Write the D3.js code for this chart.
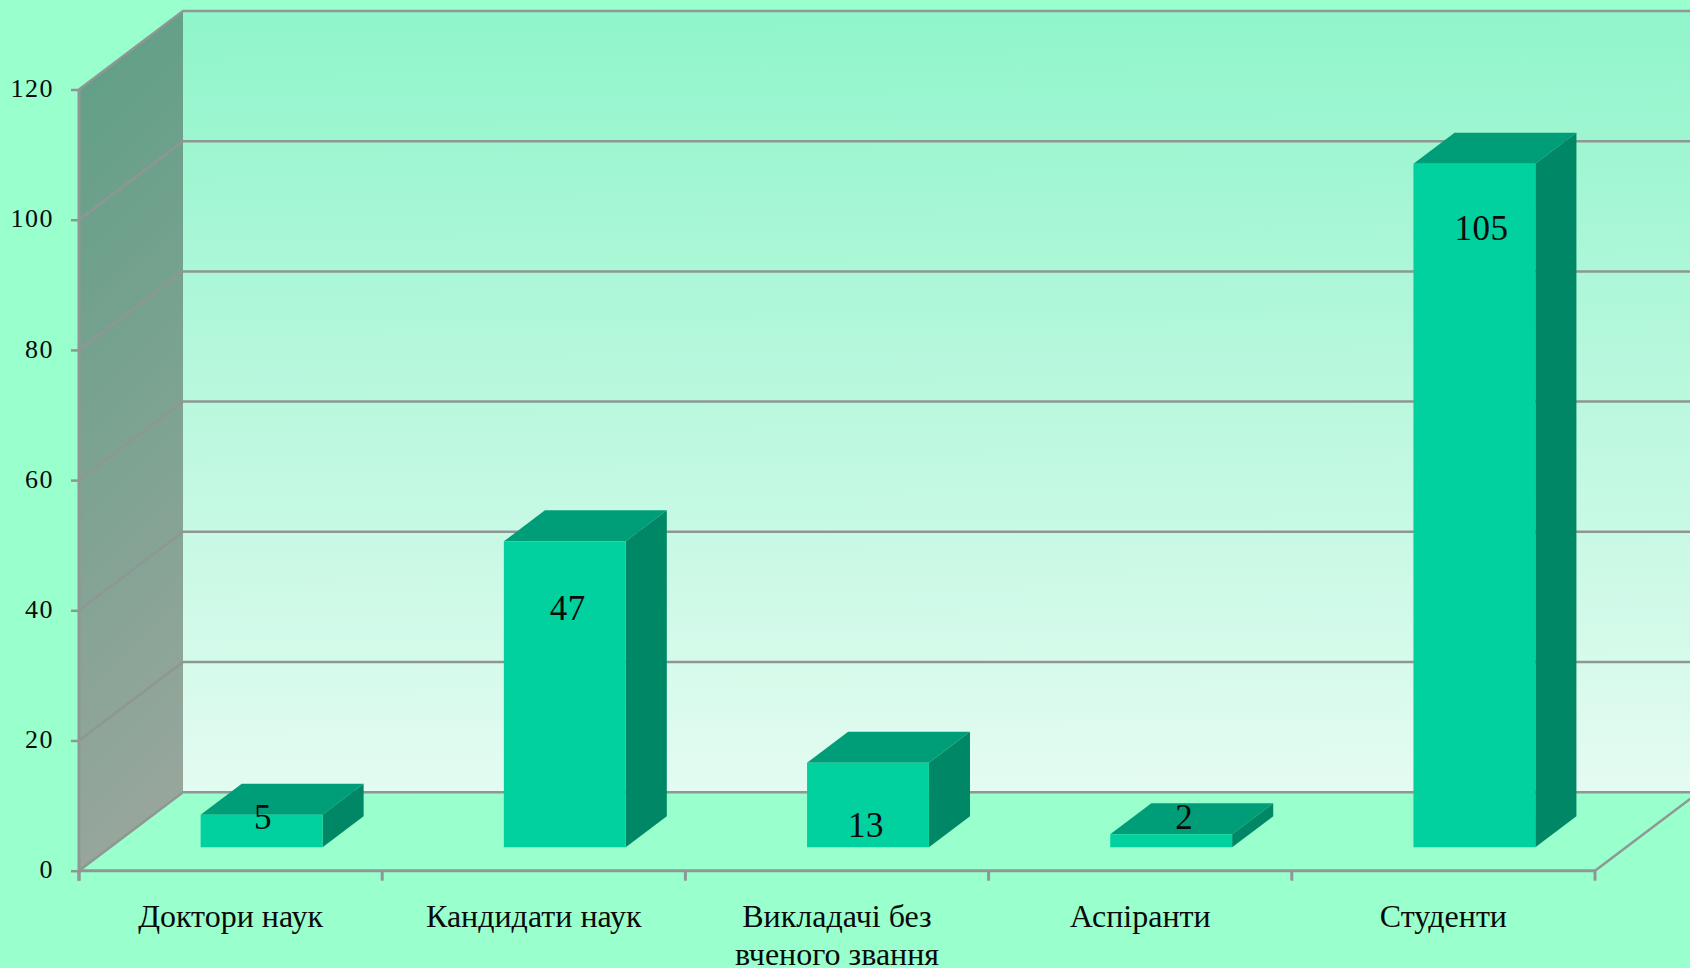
<!DOCTYPE html>
<html>
<head>
<meta charset="utf-8">
<title>Chart</title>
<script src="https://cdn.jsdelivr.net/npm/d3@7"></script>
<style>
  html, body { margin: 0; padding: 0; background: #99ffcc; overflow: hidden; }
  svg { display: block; }
  text { font-family: "Liberation Serif", serif; fill: #0a0a0a; }
  .domain { display: none; }
</style>
</head>
<body>
<svg width="1690" height="968"></svg>
<script>
// Data:
var categories = ['Доктори наук', 'Кандидати наук', 'Викладачі без\nвченого звання', 'Аспіранти', 'Студенти'];
var values = [5, 47, 13, 2, 105];
var yTicks = [0, 20, 40, 60, 80, 100, 120];

var svg = d3.select('svg');
var defs = svg.append('defs');

// The 3D box of the chart: front plane edges and how far the back wall is shifted
var plotLeft = 79, plotRight = 1595, plotBottom = 870.7, plotTop = 89.5;
var depthX = 104, depthY = 78.5;
var barFront = 0.298, barBack = 0.693; // bar position in the depth of the floor

var lineColor = '#8f9794';

var x = d3.scaleBand()
  .domain(categories)
  .range([plotLeft, plotRight])
  .paddingInner(0.598)
  .paddingOuter(0.299);

var y = d3.scaleLinear().domain([0, 120]).range([plotBottom, plotTop]);

// Project a chart position to the page, d is the depth (0 front, 1 back wall)
function px(xPos, d) {
  return xPos + d * depthX;
}

function py(yPos, d) {
  return yPos - d * depthY;
}

function poly(points) {
  return 'M' + points.map(function (p) { return px(p[0], p[2]) + ',' + py(p[1], p[2]); }).join('L') + 'Z';
}

function gradient(id, x2, y2, stops) {
  var g = defs.append('linearGradient')
    .attr('id', id)
    .attr('x1', 0).attr('y1', 0)
    .attr('x2', x2).attr('y2', y2);
  stops.forEach(function (s, i) {
    g.append('stop').attr('offset', i / (stops.length - 1)).attr('stop-color', s);
  });
}

gradient('backWall', 0.02, 1, ['#8ff5ca', '#e3fbf1']);
gradient('sideWall', 0.12, 1, ['#5e9f85', '#97a69c']);

// Walls:
var yMax = y(120), yMin = y(0);
svg.append('path')
  .attr('d', poly([[plotLeft, yMax, 1], [plotRight + 10, yMax, 1], [plotRight + 10, yMin, 1], [plotLeft, yMin, 1]]))
  .attr('fill', 'url(#backWall)');
svg.append('path')
  .attr('d', poly([[plotLeft, yMax, 0], [plotLeft, yMax, 1], [plotLeft, yMin, 1], [plotLeft, yMin, 0]]))
  .attr('fill', 'url(#sideWall)');

// Gridlines over the side wall and the back wall:
svg.append('g')
  .selectAll('path')
  .data(yTicks)
  .enter()
  .append('path')
  .attr('d', function (d) {
    return 'M' + px(plotLeft, 0) + ',' + py(y(d), 0) +
      'L' + px(plotLeft, 1) + ',' + py(y(d), 1) +
      'L' + px(plotRight + 10, 1) + ',' + py(y(d), 1);
  })
  .attr('fill', 'none')
  .attr('stroke', lineColor)
  .attr('stroke-width', 2.5);

// Floor edge on the right:
svg.append('path')
  .attr('d', 'M' + plotRight + ',' + yMin + 'L' + px(plotRight, 1) + ',' + py(yMin, 1))
  .attr('stroke', lineColor)
  .attr('stroke-width', 2.5);

// Axes:
var yAxis = svg.append('g')
  .attr('transform', 'translate(' + plotLeft + ',0)')
  .call(d3.axisLeft(y).tickValues(yTicks).tickSize(8).tickPadding(17));

var xAxis = svg.append('g')
  .attr('transform', 'translate(0,' + plotBottom + ')')
  .call(d3.axisBottom(x).tickSize(0).tickFormat(''));

yAxis.selectAll('line').attr('stroke', lineColor).attr('stroke-width', 2.5);
yAxis.selectAll('text')
  .style('font-size', '26px')
  .style('letter-spacing', '1.5px')
  .attr('dy', '0.28em')
  .attr('fill', '#0a0a0a');

svg.append('line')
  .attr('x1', plotLeft).attr('x2', plotLeft)
  .attr('y1', yMax).attr('y2', plotBottom + 10)
  .attr('stroke', lineColor).attr('stroke-width', 3);
svg.append('line')
  .attr('x1', plotLeft).attr('x2', plotRight)
  .attr('y1', plotBottom).attr('y2', plotBottom)
  .attr('stroke', lineColor).attr('stroke-width', 3);

// Ticks sit between the categories, not on them:
svg.append('g')
  .selectAll('line')
  .data(d3.range(categories.length + 1))
  .enter()
  .append('line')
  .attr('x1', function (i) { return plotLeft + i * x.step(); })
  .attr('x2', function (i) { return plotLeft + i * x.step(); })
  .attr('y1', plotBottom)
  .attr('y2', plotBottom + 10)
  .attr('stroke', lineColor)
  .attr('stroke-width', 3);

// Category labels, broken over lines where needed:
var lineHeight = 38;
var labels = svg.append('g')
  .selectAll('text')
  .data(categories)
  .enter()
  .append('text')
  .attr('text-anchor', 'middle')
  .style('font-size', '32px');

labels.selectAll('tspan')
  .data(function (d) {
    return d.split('\n').map(function (t) { return { text: t, cat: d }; });
  })
  .enter()
  .append('tspan')
  .attr('x', function (d) { return x(d.cat) + x.bandwidth() / 2; })
  .attr('y', function (d, i) { return plotBottom + 56 + i * lineHeight; })
  .text(function (d) { return d.text; });

// Bars, three faces each:
var bars = svg.append('g')
  .selectAll('g')
  .data(values)
  .enter()
  .append('g');

function barLeft(i) { return x(categories[i]); }
function barRight(i) { return x(categories[i]) + x.bandwidth(); }

bars.append('path')
  .attr('fill', '#009e78')
  .attr('d', function (d, i) {
    return poly([[barLeft(i), y(d), barFront], [barRight(i), y(d), barFront], [barRight(i), y(d), barBack], [barLeft(i), y(d), barBack]]);
  });

bars.append('path')
  .attr('fill', '#008866')
  .attr('d', function (d, i) {
    return poly([[barRight(i), y(d), barFront], [barRight(i), y(d), barBack], [barRight(i), y(0), barBack], [barRight(i), y(0), barFront]]);
  });

bars.append('path')
  .attr('fill', '#00d19e')
  .attr('d', function (d, i) {
    return poly([[barLeft(i), y(d), barFront], [barRight(i), y(d), barFront], [barRight(i), y(0), barFront], [barLeft(i), y(0), barFront]]);
  });

// Value labels were placed by hand in the original, so nudge each one from its bar top:
var labelNudge = [[1.5, 14], [3, 79], [-2, 74], [13, -5], [7, 76]];

bars.append('text')
  .attr('text-anchor', 'middle')
  .style('font-size', '35px')
  .style('letter-spacing', '0.5px')
  .attr('x', function (d, i) { return px(barLeft(i) + x.bandwidth() / 2, barFront) + labelNudge[i][0]; })
  .attr('y', function (d, i) { return py(y(d), barFront) + labelNudge[i][1]; })
  .text(function (d) { return d; });
</script>
</body>
</html>
